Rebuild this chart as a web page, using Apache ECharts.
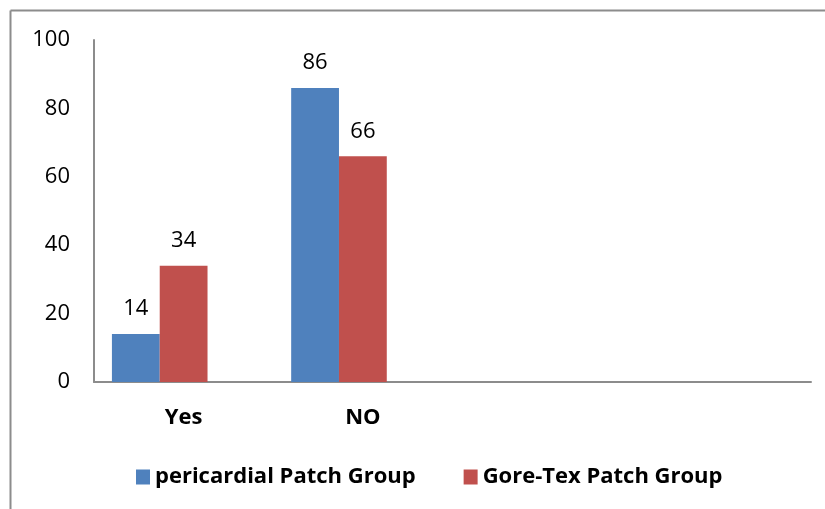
<!DOCTYPE html>
<html><head><meta charset="utf-8">
<script src="https://cdn.jsdelivr.net/npm/echarts@6/dist/echarts.min.js"></script>
<style>html,body{margin:0;padding:0;background:#fff}#c{width:825px;height:509px}</style>
</head><body><div id="c"></div>
<script>
const categories = ['Yes', 'NO', '', ''];
const pericardial = [14, 86, null, null];
const goreTex = [34, 66, null, null];
const yTicks = [0, 20, 40, 60, 80, 100];

const font = '"Open Sans", Lato, sans-serif';
const fs = 22;
const chart = echarts.init(document.getElementById('c'), null, {renderer: 'canvas'});
const labelStyle = {show: true, position: 'top', color: '#000', fontSize: fs, fontFamily: font, distance: 14};
chart.setOption({
  animation: false,
  graphic: [
    {type: 'line', shape: {x1: 10.5, y1: 10.5, x2: 825, y2: 10.5}, style: {stroke: '#8c8c8c', lineWidth: 2}},
    {type: 'line', shape: {x1: 10.5, y1: 10.5, x2: 10.5, y2: 509}, style: {stroke: '#8c8c8c', lineWidth: 2}}
  ],
  grid: {left: 94, right: 14, top: 40, bottom: 127, containLabel: false},
  legend: {
    data: ['pericardial Patch Group', 'Gore-Tex Patch Group'],
    left: 131, top: 461, itemWidth: 14, itemHeight: 15, itemGap: 48,
    icon: 'rect',
    textStyle: {fontSize: fs, fontWeight: 'bold', color: '#000', fontFamily: font}
  },
  xAxis: {
    type: 'category', data: categories,
    axisLine: {lineStyle: {color: '#8c8c8c', width: 2}},
    axisTick: {show: false},
    axisLabel: {fontSize: fs, fontWeight: 'bold', color: '#000', fontFamily: font, margin: 25}
  },
  yAxis: {
    type: 'value', min: yTicks[0], max: yTicks[yTicks.length - 1], interval: 20,
    splitLine: {show: false},
    axisLine: {show: true, lineStyle: {color: '#8c8c8c', width: 2}},
    axisTick: {show: false},
    axisLabel: {fontSize: fs, color: '#000', fontFamily: font, margin: 24}
  },
  series: [
    {name: 'pericardial Patch Group', type: 'bar', data: pericardial, barGap: 0, barCategoryGap: '20%',
     itemStyle: {color: '#4F81BD'}, label: labelStyle},
    {name: 'Gore-Tex Patch Group', type: 'bar', data: goreTex,
     itemStyle: {color: '#C0504D'}, label: labelStyle},
    {name: 'empty', type: 'bar', data: [null, null, null, null], itemStyle: {color: '#9BBB59'}}
  ]
});
</script></body></html>
